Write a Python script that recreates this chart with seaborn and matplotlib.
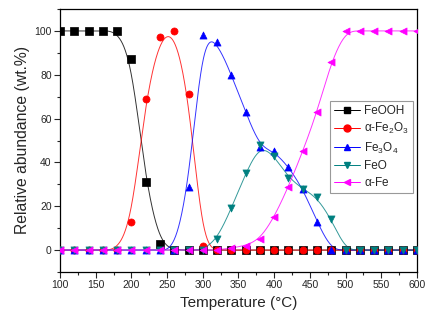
import numpy as np
import pandas as pd
import matplotlib
matplotlib.use("Agg")
import matplotlib.pyplot as plt
import seaborn as sns

temperature = list(range(100, 601, 20))

feooh = [100, 100, 100, 100, 100, 87, 31, 3, 0, 0, 0, 0, 0, 0, 0, 0, 0, 0, 0, 0, 0, 0, 0, 0, 0, 0]
fe2o3 = [0, 0, 0, 0, 0, 13, 69, 97, 100, 71, 2, 0, 0, 0, 0, 0, 0, 0, 0, 0, 0, 0, 0, 0, 0, 0]
fe3o4 = [0, 0, 0, 0, 0, 0, 0, 0, 0, 29, 98, 95, 80, 63, 47, 45, 38, 28, 13, 0, 0, 0, 0, 0, 0, 0]
feo = [0, 0, 0, 0, 0, 0, 0, 0, 0, 0, 0, 5, 19, 35, 48, 43, 33, 28, 24, 14, 0, 0, 0, 0, 0, 0]
alpha_fe = [0, 0, 0, 0, 0, 0, 0, 0, 0, 0, 0, 0, 1, 2, 5, 15, 29, 45, 63, 86, 100, 100, 100, 100, 100, 100]

series_names = ["FeOOH", r"$\alpha$-Fe$_2$O$_3$", r"Fe$_3$O$_4$", "FeO", r"$\alpha$-Fe"]
series_values = [feooh, fe2o3, fe3o4, feo, alpha_fe]
colors = ["#000000", "#ff0000", "#0000ff", "#008080", "#ff00ff"]
markers = ["s", "o", "^", "v", "<"]

x_ticks = [100, 150, 200, 250, 300, 350, 400, 450, 500, 550, 600]
y_ticks = [0, 20, 40, 60, 80, 100]


def bspline(x, y, n=40):
    """Uniform cubic B-spline using the points as control points (clamped ends)."""
    px = np.concatenate([[x[0]] * 2, x, [x[-1]] * 2]).astype(float)
    py = np.concatenate([[y[0]] * 2, y, [y[-1]] * 2]).astype(float)
    t = np.linspace(0, 1, n, endpoint=False)
    b0 = (1 - t) ** 3 / 6
    b1 = (3 * t ** 3 - 6 * t ** 2 + 4) / 6
    b2 = (-3 * t ** 3 + 3 * t ** 2 + 3 * t + 1) / 6
    b3 = t ** 3 / 6
    xs, ys = [], []
    for i in range(len(px) - 3):
        xs.append(b0 * px[i] + b1 * px[i + 1] + b2 * px[i + 2] + b3 * px[i + 3])
        ys.append(b0 * py[i] + b1 * py[i + 1] + b2 * py[i + 2] + b3 * py[i + 3])
    xs.append([px[-1]])
    ys.append([py[-1]])
    return np.concatenate(xs), np.concatenate(ys)


sns.set_theme(style="ticks")
plt.rcParams["font.family"] = ["Liberation Sans", "DejaVu Sans"]
plt.rcParams["mathtext.fontset"] = "custom"
plt.rcParams["mathtext.rm"] = "Liberation Sans"
plt.rcParams["mathtext.it"] = "Liberation Sans"

fig = plt.figure(figsize=(4.35, 3.25), dpi=100)
ax = fig.add_axes([60 / 435, 1 - 272 / 325, 357 / 435, 263 / 325])

for name, vals, c, m in zip(series_names, series_values, colors, markers):
    sx, sy = bspline(np.array(temperature), np.array(vals))
    curve = pd.DataFrame({"T": sx, "v": sy})
    sns.lineplot(data=curve, x="T", y="v", ax=ax, color=c, lw=0.7, alpha=0.8,
                 legend=False, estimator=None, sort=False)
    pts = pd.DataFrame({"T": temperature, "v": vals})
    sns.scatterplot(data=pts, x="T", y="v", ax=ax, color=c, marker=m, s=26,
                    edgecolor=c, linewidth=0.5, legend=False, zorder=3)
    ax.plot([], [], color=c, lw=0.7, marker=m, ms=5, mec=c, label=name)

ax.set_xlim(100, 600)
ax.set_ylim(-10, 110)
ax.set_xticks(x_ticks)
ax.set_xticks(np.arange(100, 601, 25), minor=True)
ax.set_yticks(y_ticks)
ax.set_yticks(np.arange(-10, 111, 10), minor=True)
ax.tick_params(which="major", direction="out", length=4, width=0.8, labelsize=7.5,
               top=False, right=False, pad=2)
ax.tick_params(which="minor", direction="out", length=2.5, width=0.8,
               top=False, right=False)
for s in ax.spines.values():
    s.set_linewidth(0.9)
    s.set_color("black")

ax.set_xlabel("Temperature (°C)", fontsize=11, labelpad=4)
ax.set_ylabel("Relative abundance (wt.%)", fontsize=11.3, labelpad=3)

leg = ax.legend(loc="upper left", bbox_to_anchor=(0.755, 0.65), fontsize=8.5,
                frameon=True, fancybox=False, edgecolor="#808080",
                handlelength=2.2, handletextpad=0.4, borderpad=0.35,
                labelspacing=0.35, borderaxespad=0)
leg.get_frame().set_linewidth(0.8)

fig.savefig("out.png", dpi=100)
